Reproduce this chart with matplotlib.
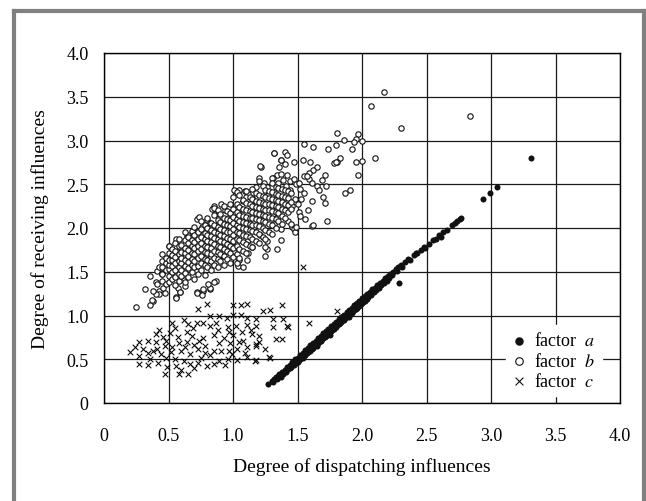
import numpy as np
import matplotlib
matplotlib.use('Agg')
import matplotlib.pyplot as plt
from matplotlib.lines import Line2D

plt.rcParams['font.family'] = ['Liberation Serif', 'DejaVu Serif']
plt.rcParams['mathtext.fontset'] = 'stix'

# factor a: dispatching vs receiving (filled dots, narrow band)
factor_a = [
    (1.27, 0.22), (1.30, 0.25), (1.31, 0.24), (1.32, 0.27), (1.33, 0.30), (1.34, 0.28), (1.35, 0.31),
    (1.36, 0.33), (1.37, 0.30), (1.38, 0.36), (1.39, 0.33), (1.40, 0.38), (1.41, 0.35), (1.42, 0.41),
    (1.43, 0.39), (1.44, 0.44), (1.45, 0.41), (1.44, 0.40), (1.46, 0.47), (1.47, 0.44), (1.46, 0.43),
    (1.48, 0.50), (1.49, 0.46), (1.48, 0.46), (1.50, 0.52), (1.51, 0.49), (1.50, 0.47), (1.52, 0.55),
    (1.53, 0.51), (1.52, 0.50), (1.54, 0.57), (1.55, 0.54), (1.54, 0.52), (1.56, 0.61), (1.57, 0.57),
    (1.56, 0.55), (1.58, 0.63), (1.59, 0.60), (1.58, 0.58), (1.60, 0.66), (1.61, 0.62), (1.60, 0.60),
    (1.62, 0.69), (1.63, 0.65), (1.62, 0.63), (1.64, 0.71), (1.65, 0.68), (1.64, 0.66), (1.66, 0.74),
    (1.67, 0.70), (1.66, 0.69), (1.68, 0.77), (1.69, 0.73), (1.68, 0.71), (1.70, 0.80), (1.71, 0.76),
    (1.70, 0.74), (1.72, 0.82), (1.73, 0.79), (1.72, 0.77), (1.74, 0.85), (1.75, 0.81), (1.74, 0.79),
    (1.76, 0.88), (1.77, 0.84), (1.76, 0.82), (1.78, 0.90), (1.79, 0.87), (1.78, 0.85), (1.80, 0.93),
    (1.81, 0.89), (1.80, 0.87), (1.82, 0.96), (1.83, 0.92), (1.82, 0.90), (1.84, 0.98), (1.85, 0.95),
    (1.84, 0.93), (1.86, 1.01), (1.87, 0.97), (1.86, 0.95), (1.88, 1.04), (1.89, 1.00), (1.88, 0.98),
    (1.90, 1.06), (1.91, 1.03), (1.90, 1.01), (1.92, 1.09), (1.93, 1.05), (1.92, 1.03), (1.94, 1.12),
    (1.95, 1.08), (1.94, 1.06), (1.96, 1.14), (1.97, 1.11), (1.96, 1.09), (1.98, 1.17), (1.99, 1.13),
    (1.98, 1.11), (2.00, 1.20), (2.01, 1.16), (2.00, 1.14), (2.02, 1.22), (2.03, 1.19), (2.02, 1.17),
    (2.04, 1.25), (2.05, 1.21), (2.04, 1.19), (2.06, 1.27), (2.07, 1.24), (2.08, 1.30), (2.09, 1.27),
    (2.10, 1.32), (2.11, 1.29), (2.12, 1.35), (2.13, 1.32), (2.14, 1.37), (2.15, 1.35), (2.16, 1.40),
    (2.17, 1.37), (2.18, 1.43), (2.19, 1.40), (2.20, 1.45), (2.21, 1.43), (2.22, 1.48), (2.23, 1.46),
    (2.24, 1.50), (2.26, 1.53), (2.27, 1.51), (2.28, 1.55), (2.30, 1.58), (2.31, 1.56), (2.33, 1.61),
    (2.36, 1.65), (2.37, 1.63), (2.40, 1.69), (2.42, 1.71), (2.43, 1.72), (2.46, 1.75), (2.48, 1.78),
    (2.49, 1.77), (2.52, 1.82), (2.55, 1.86), (2.57, 1.88), (2.60, 1.92), (2.61, 1.90), (2.63, 1.95),
    (2.66, 1.98), (2.70, 2.03), (2.72, 2.06), (2.74, 2.08), (2.76, 2.10), (2.77, 2.12),
    (1.75, 0.78), (1.85, 0.99), (1.95, 1.13), (1.65, 0.65), (1.90, 0.98), (2.05, 1.25),
    (1.58, 0.62), (1.68, 0.74), (1.78, 0.88), (1.88, 1.02), (1.98, 1.15), (2.08, 1.28),
    (2.29, 1.37), (2.94, 2.33), (2.99, 2.40), (3.05, 2.47), (3.31, 2.80),
]

# factor b: scattered edge points and outliers (open circles)
factor_b_edge = [
    (2.17, 3.55), (2.07, 3.40), (2.84, 3.28), (2.30, 3.14), (2.10, 2.80), (1.81, 3.09), (1.97, 3.08),
    (1.86, 3.01), (1.95, 3.02), (1.94, 2.98), (2.00, 2.99), (1.55, 2.96), (1.62, 2.93), (1.74, 2.90),
    (1.80, 2.95), (1.92, 2.90), (2.00, 2.77), (1.95, 2.75), (1.83, 2.80), (1.81, 2.76), (1.78, 2.74),
    (1.80, 2.75), (1.32, 2.86), (1.40, 2.87), (1.42, 2.84), (1.37, 2.78), (1.40, 2.73), (1.47, 2.76),
    (1.54, 2.78), (1.60, 2.76), (1.22, 2.70), (1.36, 2.70), (1.65, 2.70), (1.62, 2.66), (1.59, 2.63),
    (1.55, 2.60), (1.59, 2.56), (1.57, 2.59), (1.71, 2.61), (1.69, 2.55), (1.72, 2.48), (1.97, 2.61),
    (1.91, 2.43), (1.87, 2.40), (1.34, 2.61), (1.31, 2.57), (1.42, 2.61), (1.39, 2.55), (1.44, 2.54),
    (1.47, 2.56), (1.20, 2.57), (1.24, 2.52), (1.49, 2.50), (1.52, 2.45), (1.44, 2.43), (1.48, 2.33),
    (1.53, 2.33), (1.46, 2.25), (1.50, 2.27), (1.61, 2.51), (1.65, 2.48), (1.67, 2.43), (1.70, 2.35),
    (1.71, 2.29), (1.61, 2.31), (1.73, 2.08), (1.51, 2.18), (1.52, 2.14), (1.61, 2.02), (1.46, 2.01),
    (1.21, 2.71), (1.37, 2.78), (1.30, 2.57), (1.37, 2.62), (1.51, 2.52), (1.01, 2.43), (1.05, 2.44),
    (1.09, 2.42), (1.12, 2.39), (1.08, 2.31), (1.15, 2.34), (0.85, 2.25), (0.84, 2.22), (0.91, 2.27),
    (0.94, 2.20), (0.72, 2.10), (0.80, 2.09), (0.64, 1.91), (0.67, 1.90), (1.37, 1.99), (1.47, 1.99),
    (1.37, 1.86), (1.34, 1.76), (1.25, 1.68), (1.26, 1.76), (1.04, 1.57), (1.11, 1.63), (1.05, 1.64),
    (1.62, 2.03), (1.48, 1.95), (1.49, 2.01), (1.25, 1.78), (1.26, 1.85), (1.08, 1.55), (1.03, 1.60),
    (0.87, 1.40), (0.82, 1.30), (0.77, 1.28), (0.72, 1.27), (0.56, 1.21), (0.59, 1.27), (0.74, 2.13),
    (0.85, 2.23), (1.03, 2.41), (1.20, 2.54), (1.32, 2.86), (0.56, 1.87), (0.50, 1.80), (0.65, 1.92),
    (0.72, 1.97), (0.76, 2.01), (0.82, 2.06), (0.86, 2.16), (0.25, 1.10), (0.32, 1.30), (0.36, 1.45),
    (0.38, 1.17), (0.36, 1.12), (0.40, 1.38), (0.43, 1.28), (0.46, 1.32), (0.43, 1.25), (0.47, 1.26),
    (0.41, 1.51), (0.43, 1.56), (0.47, 1.57), (0.45, 1.49), (0.37, 1.18), (0.40, 1.25), (0.38, 1.28),
    (0.41, 1.36), (0.57, 1.32), (0.72, 1.26), (0.77, 1.30), (0.82, 1.32), (0.85, 1.38), (0.81, 1.36),
    (0.56, 1.20), (0.59, 1.27), (0.63, 1.34), (0.76, 1.23), (1.12, 1.72), (1.15, 1.78), (0.45, 1.47),
    (0.52, 1.48), (0.61, 1.57), (0.69, 1.63), (0.79, 1.69), (0.91, 1.81), (0.99, 1.84), (1.07, 1.96),
    (1.16, 2.01), (1.22, 2.12), (1.31, 2.16), (0.57, 1.73), (0.66, 1.82), (0.77, 1.93), (0.87, 2.02),
    (0.96, 2.12), (1.06, 2.22), (1.17, 2.28), (1.27, 2.38), (0.62, 1.41), (0.71, 1.51), (0.81, 1.58),
    (0.92, 1.68), (1.01, 1.74), (1.12, 1.86), (1.21, 1.92), (1.32, 2.05), (1.26, 2.47), (1.35, 2.52),
    (1.18, 2.47), (1.10, 2.36), (1.41, 2.48), (1.55, 2.40), (1.58, 2.20), (1.56, 2.10), (1.43, 2.08),
]

# factor b: dense core, one column of receiving values per dispatching value
factor_b_core_x = [0.45, 0.48, 0.50, 0.53, 0.55, 0.58, 0.60, 0.63, 0.65, 0.68, 0.70, 0.73, 0.75,
                   0.78, 0.80, 0.83, 0.85, 0.88, 0.90, 0.93, 0.95, 0.98, 1.00, 1.03, 1.05, 1.08,
                   1.10, 1.13, 1.15, 1.18, 1.20, 1.23, 1.25, 1.28, 1.30, 1.33, 1.35, 1.38, 1.40,
                   1.43, 1.45]
factor_b_core_y = [
    [1.40, 1.47, 1.55, 1.62, 1.70],
    [1.36, 1.52, 1.60, 1.66],
    [1.38, 1.45, 1.53, 1.58, 1.64, 1.72, 1.80],
    [1.42, 1.50, 1.57, 1.63, 1.69, 1.76],
    [1.35, 1.44, 1.52, 1.60, 1.67, 1.74, 1.83],
    [1.40, 1.48, 1.55, 1.62, 1.70, 1.79, 1.88],
    [1.45, 1.52, 1.60, 1.66, 1.73, 1.81],
    [1.38, 1.49, 1.57, 1.64, 1.71, 1.77, 1.86, 1.95],
    [1.44, 1.54, 1.61, 1.68, 1.75, 1.83, 1.90],
    [1.50, 1.58, 1.65, 1.72, 1.79, 1.86, 1.97],
    [1.42, 1.55, 1.62, 1.70, 1.77, 1.84, 1.92, 2.01],
    [1.48, 1.57, 1.66, 1.74, 1.80, 1.88, 1.96],
    [1.52, 1.60, 1.68, 1.76, 1.83, 1.90, 1.99, 2.08],
    [1.46, 1.58, 1.65, 1.73, 1.80, 1.87, 1.94, 2.03],
    [1.55, 1.63, 1.71, 1.78, 1.85, 1.92, 2.00, 2.12],
    [1.52, 1.62, 1.70, 1.77, 1.84, 1.91, 1.98, 2.06],
    [1.58, 1.66, 1.74, 1.82, 1.89, 1.96, 2.04, 2.15],
    [1.55, 1.65, 1.73, 1.80, 1.87, 1.94, 2.01, 2.09, 2.20],
    [1.62, 1.70, 1.78, 1.85, 1.92, 1.99, 2.07, 2.16],
    [1.58, 1.68, 1.76, 1.84, 1.91, 1.98, 2.05, 2.12, 2.25],
    [1.65, 1.74, 1.82, 1.89, 1.96, 2.03, 2.10, 2.19],
    [1.60, 1.72, 1.80, 1.88, 1.95, 2.02, 2.09, 2.17, 2.28],
    [1.67, 1.77, 1.85, 1.92, 1.99, 2.06, 2.13, 2.22, 2.35],
    [1.70, 1.80, 1.88, 1.96, 2.03, 2.10, 2.18, 2.27],
    [1.66, 1.76, 1.86, 1.94, 2.01, 2.08, 2.15, 2.24, 2.38],
    [1.74, 1.84, 1.92, 2.00, 2.07, 2.14, 2.22, 2.32],
    [1.72, 1.82, 1.91, 1.99, 2.06, 2.13, 2.20, 2.29, 2.42],
    [1.80, 1.90, 1.98, 2.05, 2.12, 2.19, 2.27, 2.36],
    [1.78, 1.88, 1.97, 2.04, 2.11, 2.18, 2.25, 2.33, 2.45],
    [1.85, 1.95, 2.03, 2.10, 2.17, 2.24, 2.31, 2.40],
    [1.83, 1.93, 2.02, 2.09, 2.16, 2.23, 2.30, 2.38],
    [1.90, 2.00, 2.08, 2.15, 2.22, 2.29, 2.37, 2.48],
    [1.88, 1.98, 2.07, 2.14, 2.21, 2.28, 2.35, 2.44],
    [1.95, 2.05, 2.13, 2.20, 2.27, 2.34, 2.42],
    [1.93, 2.03, 2.12, 2.19, 2.26, 2.33, 2.41, 2.52],
    [2.00, 2.10, 2.18, 2.25, 2.32, 2.39, 2.47],
    [2.08, 2.17, 2.24, 2.31, 2.38, 2.46],
    [2.05, 2.14, 2.22, 2.30, 2.37, 2.45],
    [2.12, 2.20, 2.28, 2.35, 2.43],
    [2.18, 2.26, 2.34, 2.42],
    [2.05, 2.22, 2.30, 2.40],
]

# factor c (crosses)
factor_c = [
    (0.73, 1.07), (0.80, 1.13), (1.00, 1.12), (1.06, 1.12), (1.11, 1.13), (1.23, 1.05), (1.29, 1.06),
    (1.38, 1.12), (0.82, 0.99), (0.89, 0.99), (0.95, 0.97), (1.00, 1.01), (1.06, 1.01), (1.11, 0.97),
    (1.18, 0.96), (1.31, 0.96), (1.39, 0.96), (0.53, 0.91), (0.62, 0.95), (0.65, 0.90), (0.72, 0.91),
    (0.77, 0.92), (0.82, 0.88), (0.87, 0.91), (0.96, 0.87), (1.02, 0.88), (1.11, 0.89), (1.18, 0.88),
    (1.31, 0.87), (1.43, 0.87), (0.43, 0.83), (0.40, 0.79), (0.51, 0.80), (0.57, 0.76), (0.64, 0.81),
    (0.68, 0.77), (0.77, 0.74), (0.85, 0.78), (0.97, 0.81), (1.07, 0.81), (1.15, 0.79), (1.20, 0.77),
    (0.27, 0.70), (0.34, 0.71), (0.40, 0.70), (0.48, 0.71), (0.58, 0.69), (0.64, 0.70), (0.74, 0.71),
    (0.89, 0.69), (0.98, 0.69), (1.08, 0.71), (1.20, 0.70), (1.33, 0.73), (1.38, 0.73), (0.41, 0.62),
    (0.47, 0.65), (0.53, 0.64), (0.63, 0.64), (0.73, 0.62), (0.78, 0.65), (0.85, 0.60), (0.91, 0.60),
    (0.97, 0.60), (1.03, 0.62), (1.11, 0.64), (1.18, 0.65), (1.25, 0.62), (0.20, 0.58), (0.27, 0.54),
    (0.34, 0.57), (0.48, 0.52), (0.55, 0.50), (0.62, 0.48), (0.67, 0.56), (0.78, 0.57), (0.89, 0.48),
    (0.96, 0.50), (1.03, 0.49), (1.11, 0.53), (1.18, 0.49), (1.29, 0.52), (0.27, 0.45), (0.34, 0.43),
    (0.42, 0.46), (0.49, 0.41), (0.67, 0.45), (0.73, 0.46), (0.85, 0.45), (0.47, 0.33), (0.58, 0.33),
    (0.65, 0.33), (1.42, 0.88), (1.18, 0.67), (1.28, 0.53), (1.17, 0.48), (0.30, 0.62), (0.36, 0.50),
    (0.44, 0.56), (0.52, 0.58), (0.56, 0.42), (0.60, 0.60), (0.70, 0.66), (0.75, 0.52), (0.82, 0.55),
    (0.88, 0.84), (0.93, 0.74), (0.99, 0.56), (1.05, 0.70), (1.09, 0.57), (1.14, 0.84), (0.60, 0.38),
    (0.70, 0.40), (0.80, 0.42), (0.94, 0.44), (1.00, 0.78), (0.55, 0.86), (0.46, 0.76), (0.69, 0.86),
    (0.24, 0.64), (0.38, 0.60), (1.59, 0.91), (1.81, 1.05), (1.54, 1.56),
]

a = np.array(factor_a)
b_edge = np.array(factor_b_edge)
b_core = np.array([(x, y) for x, col in zip(factor_b_core_x, factor_b_core_y) for y in col])
b = np.vstack([b_edge, b_core])
c = np.array(factor_c)

fig = plt.figure(figsize=(6.46, 5.02), dpi=100)
ax = fig.add_axes([104 / 646, 1 - 404 / 502, 516 / 646, 350 / 502])

# grey frame round the figure
frame = dict(color='#808080', lw=3, transform=fig.transFigure, solid_capstyle='projecting')
fig.add_artist(Line2D([14 / 646, 14 / 646], [0, 1 - 12 / 502], **frame))
fig.add_artist(Line2D([14 / 646, 644 / 646], [1 - 12 / 502, 1 - 12 / 502], **frame))
fig.add_artist(Line2D([644 / 646, 644 / 646], [0, 1 - 12 / 502], **frame))

ax.scatter(c[:, 0], c[:, 1], marker='x', s=16, c='black', linewidths=0.75, zorder=3, label='factor  $c$')
ax.scatter(b[:, 0], b[:, 1], marker='o', s=15, facecolors='white', edgecolors='#111111',
           linewidths=0.8, zorder=4, label='factor  $b$')
ax.scatter(a[:, 0], a[:, 1], marker='o', s=19, c='#111111', linewidths=0, zorder=5, label='factor  $a$')

ax.set_xlim(0, 4)
ax.set_ylim(0, 4)
ticks = np.arange(0, 4.01, 0.5)
labels = ['0'] + ['%.1f' % t for t in ticks[1:]]
ax.set_xticks(ticks)
ax.set_xticklabels(labels)
ax.set_yticks(ticks)
ax.set_yticklabels(labels)
ax.tick_params(length=0, labelsize=13)
ax.tick_params(axis='x', pad=17)
ax.tick_params(axis='y', pad=11)
ax.grid(True, color='#1a1a1a', lw=0.9, zorder=0)
ax.set_axisbelow(True)
for sp in ax.spines.values():
    sp.set_linewidth(1.0)

ax.set_xlabel('Degree of dispatching influences', fontsize=14)
ax.set_ylabel('Degree of receiving influences', fontsize=14)
ax.xaxis.set_label_coords(0.5, -0.155)
ax.yaxis.set_label_coords(-0.107, 0.5)

h, l = ax.get_legend_handles_labels()
leg = ax.legend(h[::-1], l[::-1], loc='lower right', bbox_to_anchor=(0.965, 0.02), fontsize=13,
                frameon=True, fancybox=False, framealpha=1, edgecolor='white', facecolor='white',
                markerscale=1.4, handlelength=0.7, handletextpad=0.5, labelspacing=0.12,
                borderpad=0.35, borderaxespad=0)
leg.set_zorder(6)

fig.savefig('out.png', dpi=100)
